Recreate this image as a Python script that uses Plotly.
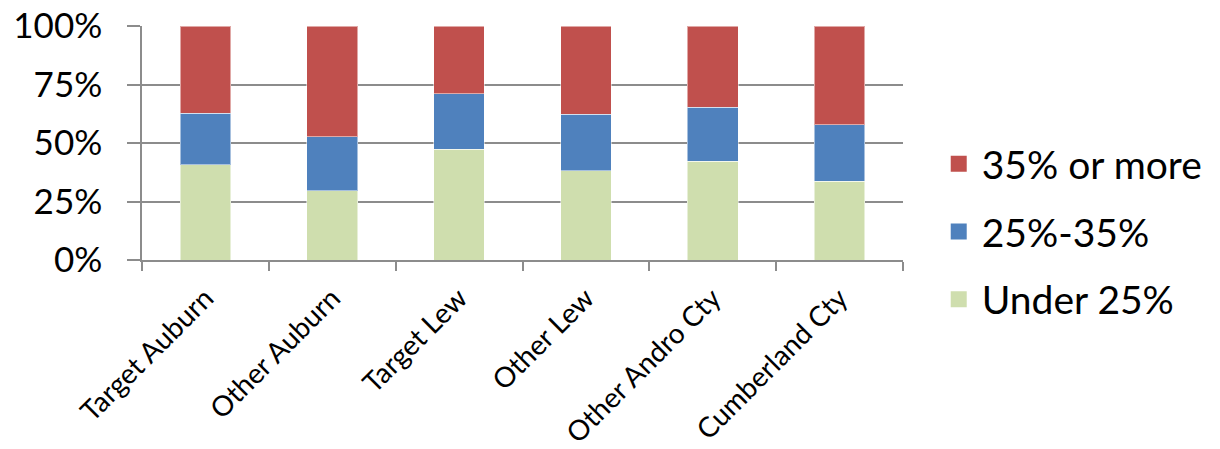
import plotly.graph_objects as go

categories = ["Target Auburn", "Other Auburn", "Target Lew", "Other Lew", "Other Andro Cty", "Cumberland Cty"]
under_25 = [40.8, 29.6, 47.3, 38.1, 42.3, 33.7]
pct_25_35 = [22.0, 23.0, 23.8, 24.3, 22.9, 24.1]
pct_35_plus = [37.2, 47.4, 28.9, 37.6, 34.8, 42.2]
series_names = ["Under 25%", "25%-35%", "35% or more"]
series_colors = ["#CFDEAE", "#4F81BD", "#C0504D"]
y_ticks = [0, 25, 50, 75, 100]
y_tick_labels = ["0%", "25%", "50%", "75%", "100%"]

FONT = "Lato, Calibri, 'Open Sans', sans-serif"

fig = go.Figure()
for name, vals, col in zip(series_names, [under_25, pct_25_35, pct_35_plus], series_colors):
    fig.add_trace(go.Bar(x=categories, y=vals, name=name, showlegend=False,
                         marker=dict(color=col, line=dict(color="rgba(255,255,255,0.5)", width=1))))
# legend entries with large square swatches (top to bottom: 35% or more, 25%-35%, Under 25%)
for i, (name, col) in enumerate(zip(series_names[::-1], series_colors[::-1])):
    fig.add_trace(go.Scatter(x=[None], y=[None], mode="markers", name=name,
                             legendgroup=f"g{i}",
                             marker=dict(symbol="square", size=24, color=col)))

# page body has an 8px margin, so figure is sized/offset accordingly
fig.update_layout(
    width=1212, height=441,
    barmode="stack", bargap=0.6,
    paper_bgcolor="white", plot_bgcolor="white",
    margin=dict(l=134, r=312, t=18, b=189),
    font=dict(family=FONT, color="black"),
    legend=dict(traceorder="grouped", x=1.043, y=0.12, xanchor="left", yanchor="middle",
                font=dict(size=39, family=FONT), itemsizing="trace", tracegroupgap=14,
                itemwidth=36),
    showlegend=True,
)
fig.update_yaxes(range=[0, 100.01], tickvals=y_ticks, ticktext=y_tick_labels,
                 showgrid=True, gridcolor="#8C8C8C", gridwidth=1.5,
                 showline=True, linecolor="#8C8C8C", linewidth=1.5,
                 ticks="outside", ticklen=13, tickcolor="#8C8C8C", tickwidth=1.5,
                 ticklabelstandoff=18, ticklabeloverflow="allow",
                 tickfont=dict(size=35, family=FONT), zeroline=False, automargin=False)
fig.update_xaxes(showline=True, linecolor="#8C8C8C", linewidth=1.5,
                 ticks="outside", ticklen=9, tickcolor="#8C8C8C", tickwidth=1.5,
                 tickson="boundaries", tickangle=-45, automargin=False,
                 ticklabelstandoff=9, ticklabeloverflow="allow",
                 tickfont=dict(size=28, family=FONT))

fig.write_html("out.html")
